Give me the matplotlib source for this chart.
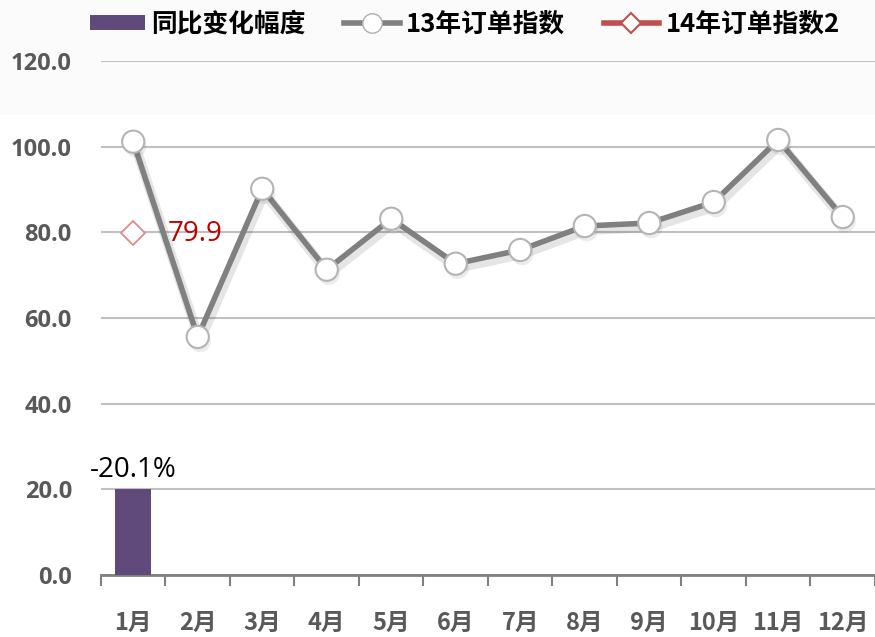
import matplotlib
matplotlib.use("Agg")
import matplotlib.pyplot as plt
import matplotlib.patheffects as pe
from matplotlib.lines import Line2D
from matplotlib.patches import Patch, Rectangle

months = ["1月", "2月", "3月", "4月", "5月", "6月", "7月", "8月", "9月", "10月", "11月", "12月"]
idx13 = [101.2, 55.6, 90.2, 71.3, 83.2, 72.7, 75.9, 81.5, 82.2, 87.1, 101.6, 83.6]
idx14 = [79.9]
yoy_bar = [20.1]
yoy_label = ["-20.1%"]
yticks = [0, 20, 40, 60, 80, 100, 120]

plt.rcParams['font.family'] = ['Open Sans', 'Noto Sans CJK SC', 'DejaVu Sans']

fig = plt.figure(figsize=(8.75, 6.37), dpi=100)
fig.patch.set_facecolor('white')
ax = fig.add_axes([0.1154, 0.0973, 0.8846, 0.8067])
ax.set_facecolor('none')
fig.patches.append(Rectangle((0, 0.82), 1, 0.18, transform=fig.transFigure,
                             facecolor='#fbfbfb', edgecolor='none', zorder=-10))

x = list(range(len(months)))
bar_c = '#604a7b'
ax.bar(x[:len(yoy_bar)], yoy_bar, width=0.56, color=bar_c, zorder=3)
for i, (v, lab) in enumerate(zip(yoy_bar, yoy_label)):
    ax.text(i, v + 1.2, lab, ha='center', va='bottom', fontsize=20, color='black',
            family=['Open Sans', 'DejaVu Sans'])

line_c = '#808080'
ax.plot(x, idx13, color=line_c, lw=4, zorder=4, solid_capstyle='round',
        path_effects=[pe.SimpleLineShadow(offset=(1.5, -3), shadow_color='#000000', alpha=0.1, linewidth=7),
                      pe.Normal()])
ax.plot(x, idx13, ls='none', marker='o', ms=16, mfc='white', mec='#b4b4b4', mew=1.5, zorder=5,
        path_effects=[pe.SimplePatchShadow(offset=(1.5, -3), alpha=0.1), pe.Normal()])

red_c = '#c0504d'
ax.plot(x[:len(idx14)], idx14, ls='none', marker='D', ms=12, mfc='white', mec='#e08c8a', mew=1.3, zorder=5)
for i, v in enumerate(idx14):
    ax.text(i + 0.53, v - 0.3, f"{v:.1f}", ha='left', va='center', fontsize=20, color='#c00000',
            family=['Open Sans', 'DejaVu Sans'])

ax.set_xlim(-0.5, len(months) - 0.5)
ax.set_ylim(0, 120)
ax.set_yticks(yticks)
ax.set_yticklabels([f"{t:.1f}" for t in yticks], fontsize=17, fontweight='bold', color='#595959')
ax.yaxis.set_tick_params(length=0, pad=21)
ax.grid(axis='y', color='#c0c0c0', lw=1.5, zorder=0)
ax.set_axisbelow(True)

ax.set_xticks([i - 0.5 for i in range(len(months) + 1)])
ax.set_xticklabels([])
ax.set_xticks(x, minor=True)
ax.set_xticklabels(months, minor=True, fontsize=17, fontweight='bold', color='#595959',
                   family=['Noto Sans CJK SC'])
ax.tick_params(axis='x', which='major', length=8, width=1.5, color='#808080', direction='out')
ax.tick_params(axis='x', which='minor', length=0, pad=26)

for s in ['top', 'right', 'left']:
    ax.spines[s].set_visible(False)
ax.spines['bottom'].set_color('#808080')
ax.spines['bottom'].set_linewidth(2)

handles = [
    Patch(facecolor=bar_c, edgecolor='none'),
    Line2D([], [], color=line_c, lw=4, marker='o', ms=14, mfc='white', mec='#b0b0b0'),
    Line2D([], [], color=red_c, lw=4, marker='D', ms=10, mfc='white', mec=red_c, mew=1.5),
]
labels = ["同比变化幅度", "13年订单指数", "14年订单指数2"]
leg = fig.legend(handles, labels, loc='upper left', bbox_to_anchor=(0.082, 1.012), ncol=3, frameon=False,
                 prop={'family': ['Noto Sans CJK SC'], 'weight': 'bold', 'size': 18.5},
                 handlelength=2.15, handletextpad=0.25, columnspacing=1.5, handleheight=0.5,
                 borderpad=0.2)

fig.savefig('out.png', dpi=100, facecolor=fig.get_facecolor())
